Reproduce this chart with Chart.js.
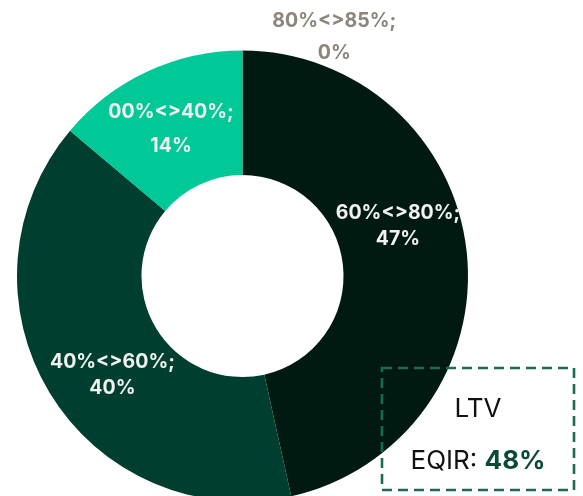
<!DOCTYPE html>
<html>
<head>
<meta charset="utf-8">
<script src="https://cdn.jsdelivr.net/npm/chart.js@4"></script>
<style>
  html, body { margin: 0; padding: 0; background: #fff; overflow: hidden; }
  body { width: 583px; height: 496px; position: relative; font-family: Inter, "Noto Sans", sans-serif; }
  #wrap { position: absolute; left: 0; top: 0; width: 583px; height: 552px; }
  #legend { position: absolute; left: 380px; top: 366px; width: 196px; height: 126px; }
  #legend svg { position: absolute; left: 0; top: 0; }
  .lg-title { position: absolute; left: 0; width: 196px; top: 26px; text-align: center; font-size: 26px; color: #111; }
  .lg-val { position: absolute; left: 0; width: 196px; top: 78px; text-align: center; font-size: 26px; color: #111; }
  .lg-val b { color: #0b4a37; font-weight: 700; }
</style>
</head>
<body>
<div id="wrap"><canvas id="ltv-chart"></canvas></div>
<div id="legend">
  <svg width="196" height="126"><rect x="2" y="2" width="192" height="122" fill="none" stroke="#1d6a50" stroke-width="2.6" stroke-dasharray="10 6"/></svg>
  <div class="lg-title">LTV</div>
  <div class="lg-val">EQIR: <b>48%</b></div>
</div>
<script>
// ═══ DATA ═══
const BUCKETS = ['80%<>85%;', '60%<>80%;', '40%<>60%;', '00%<>40%;'];
const SHARES = [0, 47, 40, 14];
const COLORS = ['#8c857b', '#001a12', '#003f2f', '#00c896'];

// ═══ LABEL PLUGIN ═══
// draws "bucket;\nshare%" for each arc, nudged a bit like the original
const sliceLabels = {
  id: 'sliceLabels',
  afterDatasetsDraw(chart, args, opts) {
    const ctx = chart.ctx;
    const arcs = chart.getDatasetMeta(0).data;
    ctx.save();
    ctx.font = 'bold 19.5px Inter, sans-serif';
    ctx.textAlign = 'center';
    ctx.textBaseline = 'middle';
    arcs.forEach((arc, i) => {
      const p = arc.getProps(['x', 'y', 'startAngle', 'endAngle', 'innerRadius', 'outerRadius']);
      const tweak = opts.tweaks[i];
      const mid = (p.startAngle + p.endAngle) / 2 + tweak.da * Math.PI / 180;
      const r = tweak.r != null ? tweak.r : (p.innerRadius + p.outerRadius) / 2;
      const cx = p.x + Math.cos(mid) * r;
      const cy = p.y + Math.sin(mid) * r;
      ctx.fillStyle = SHARES[i] === 0 ? COLORS[0] : '#f2f2f2';
      ctx.fillText(BUCKETS[i], cx, cy - tweak.gap / 2);
      ctx.fillText(SHARES[i] + '%', cx, cy + tweak.gap / 2);
    });
    ctx.restore();
  }
};

new Chart(document.getElementById('ltv-chart'), {
  type: 'doughnut',
  data: {
    labels: BUCKETS,
    datasets: [{
      data: SHARES,
      backgroundColor: COLORS,
      borderWidth: 0,
    }]
  },
  options: {
    responsive: true,
    maintainAspectRatio: false,
    animation: false,
    cutout: '44.8%',
    layout: { padding: { left: 17, right: 115, top: 50, bottom: 50 } },
    plugins: {
      legend: { display: false },
      tooltip: { enabled: false },
      sliceLabels: {
        tweaks: [
          { da: 21, r: 256, gap: 32 },
          { da: -11.5, gap: 26 },
          { da: -6, gap: 26 },
          { da: -1, gap: 34 },
        ]
      }
    }
  },
  plugins: [sliceLabels]
});
</script>
</body>
</html>
